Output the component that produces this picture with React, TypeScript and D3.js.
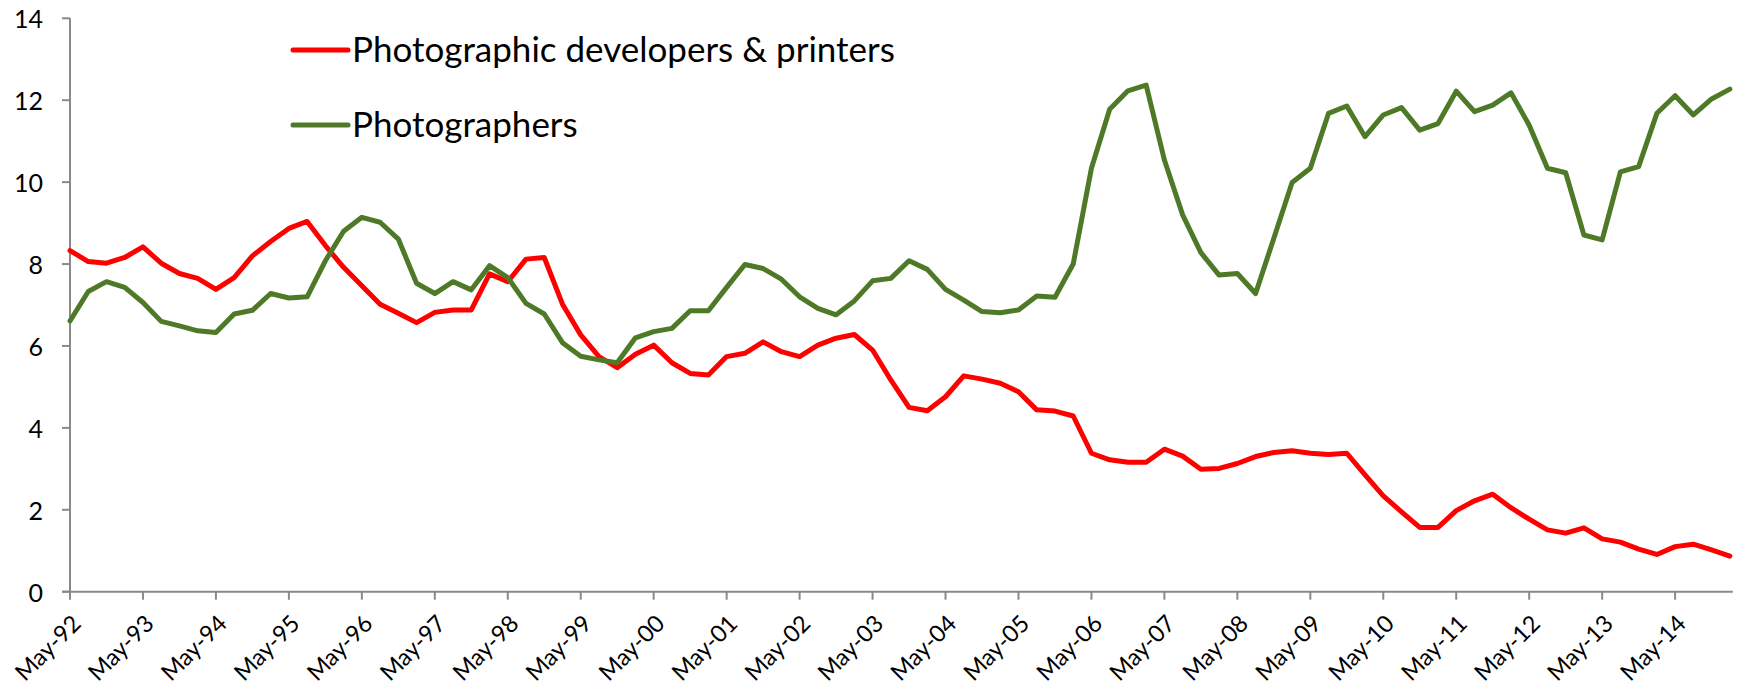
import React from "react";
import * as d3 from "d3";

const W = 1740;
const H = 688;

const yearLabels = [
  "May-92", "May-93", "May-94", "May-95", "May-96", "May-97", "May-98", "May-99",
  "May-00", "May-01", "May-02", "May-03", "May-04", "May-05", "May-06", "May-07",
  "May-08", "May-09", "May-10", "May-11", "May-12", "May-13", "May-14",
];

const yTicks = [0, 2, 4, 6, 8, 10, 12, 14];

// Quarterly values, May-92 .. Feb-15
const developers = [
  8.33, 8.06, 8.02, 8.16, 8.42, 8.02, 7.77, 7.65, 7.38, 7.67,
  8.20, 8.55, 8.87, 9.04, 8.45, 7.92, 7.47, 7.02, 6.80, 6.57,
  6.82, 6.88, 6.88, 7.76, 7.57, 8.12, 8.16, 7.02, 6.27, 5.74,
  5.47, 5.80, 6.02, 5.59, 5.33, 5.29, 5.74, 5.82, 6.10, 5.86,
  5.74, 6.02, 6.19, 6.28, 5.90, 5.17, 4.50, 4.42, 4.76, 5.27,
  5.19, 5.09, 4.88, 4.44, 4.41, 4.29, 3.38, 3.22, 3.16, 3.16,
  3.48, 3.31, 2.99, 3.01, 3.13, 3.30, 3.40, 3.44, 3.38, 3.35,
  3.38, 2.85, 2.34, 1.95, 1.57, 1.57, 1.98, 2.22, 2.38, 2.05,
  1.77, 1.51, 1.43, 1.56, 1.29, 1.21, 1.04, 0.91, 1.10, 1.16,
  1.02, 0.87,
];

const photographers = [
  6.61, 7.33, 7.57, 7.43, 7.06, 6.60, 6.49, 6.37, 6.33, 6.78,
  6.87, 7.28, 7.17, 7.20, 8.08, 8.80, 9.14, 9.02, 8.61, 7.53,
  7.28, 7.57, 7.37, 7.96, 7.67, 7.04, 6.78, 6.08, 5.75, 5.66,
  5.59, 6.20, 6.35, 6.43, 6.86, 6.86, 7.43, 7.99, 7.89, 7.63,
  7.20, 6.92, 6.76, 7.10, 7.59, 7.65, 8.08, 7.87, 7.38, 7.12,
  6.84, 6.81, 6.88, 7.22, 7.19, 8.00, 10.34, 11.78, 12.23, 12.37,
  10.54, 9.20, 8.28, 7.73, 7.77, 7.28, 8.63, 9.99, 10.34, 11.68,
  11.86, 11.11, 11.64, 11.82, 11.27, 11.43, 12.22, 11.72, 11.88, 12.18,
  11.39, 10.34, 10.23, 8.71, 8.59, 10.25, 10.38, 11.68, 12.11, 11.64,
  12.03, 12.27,
];

const seriesNames = ["Photographic developers & printers", "Photographers"];
const seriesColors = ["#FF0000", "#4E7A27"];

const FONT = "Lato, 'Open Sans', 'Noto Sans', sans-serif";

export default function App() {
  const n = developers.length;
  const x = d3.scaleLinear().domain([0, n - 1]).range([70, 70 + (n - 1) * 18.24]);
  const y = d3.scaleLinear().domain([0, 14]).range([591.7, 18.3]);
  const line = d3
    .line<number>()
    .x((_, i) => x(i))
    .y((d) => y(d));

  const axisColor = "#898989";
  const series = [developers, photographers];

  return (
    <svg
      width={W}
      height={H}
      style={{ position: "absolute", left: 0, top: 0, background: "#fff" }}
      fontFamily={FONT}
    >
      {/* Y axis */}
      <line x1={x(0)} x2={x(0)} y1={y(14)} y2={y(0)} stroke={axisColor} strokeWidth={2} />
      {yTicks.map((t) => (
        <g key={t}>
          <line x1={x(0) - 8} x2={x(0)} y1={y(t)} y2={y(t)} stroke={axisColor} strokeWidth={2} />
          <text x={43} y={y(t)} textAnchor="end" dominantBaseline="central" fontSize={25} fill="#000">
            {t}
          </text>
        </g>
      ))}
      {/* X axis */}
      <line x1={x(0) - 8} x2={x(n - 1) + 3} y1={y(0)} y2={y(0)} stroke={axisColor} strokeWidth={2} />
      {yearLabels.map((lab, k) => {
        const xi = x(k * 4);
        return (
          <g key={lab}>
            <line x1={xi} x2={xi} y1={y(0)} y2={y(0) + 8} stroke={axisColor} strokeWidth={2} />
            <text
              transform={`translate(${xi + 6},${y(0) + 27}) rotate(-45)`}
              textAnchor="end"
              dominantBaseline="central"
              fontSize={23.5}
              fill="#000"
            >
              {lab}
            </text>
          </g>
        );
      })}
      {/* Lines */}
      {series.map((s, i) => (
        <path
          key={i}
          d={line(s) || ""}
          fill="none"
          stroke={seriesColors[i]}
          strokeWidth={5}
          strokeLinejoin="round"
          strokeLinecap="round"
        />
      ))}
      {/* Legend */}
      {seriesNames.map((name, i) => {
        const ly = 50 + i * 75;
        return (
          <g key={name}>
            <line x1={293} x2={348} y1={ly} y2={ly} stroke={seriesColors[i]} strokeWidth={5} strokeLinecap="round" />
            <text x={352} y={ly + 12} fontSize={35} fill="#000">
              {name}
            </text>
          </g>
        );
      })}
    </svg>
  );
}
